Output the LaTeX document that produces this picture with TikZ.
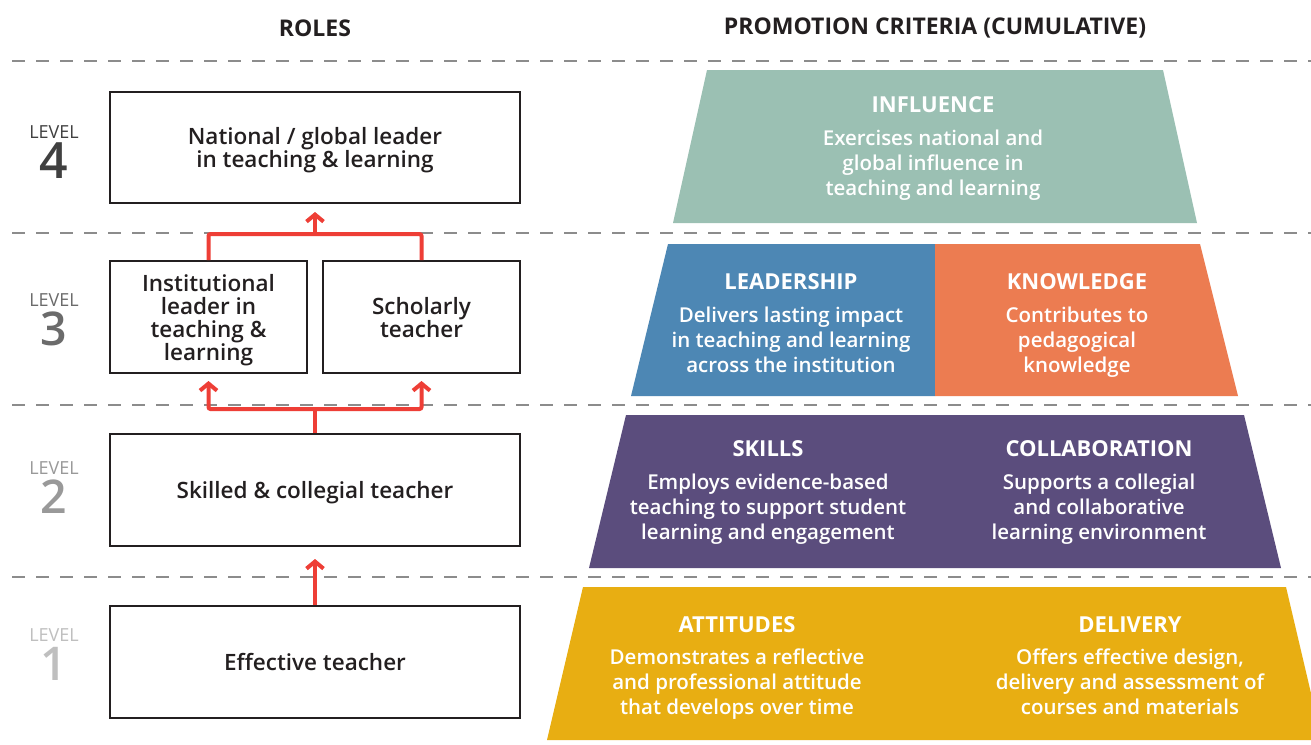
\documentclass[tikz,border=0pt]{standalone}
\usepackage{fontspec}
\setmainfont{Open Sans}
\IfFontExistsTF{Open Sans SemiBold}
  {\newfontfamily\semib{Open Sans SemiBold}}
  {\IfFontExistsTF{Open Sans Semibold}
     {\newfontfamily\semib{Open Sans Semibold}}
     {\newfontfamily\semib[FakeBold=1.3]{Open Sans}}}
\IfFontExistsTF{Open Sans ExtraBold}
  {\newfontfamily\xbold{Open Sans ExtraBold}}
  {\newfontfamily\xbold{Open Sans Bold}}
\newfontfamily\hbold{Open Sans Bold}
\usetikzlibrary{arrows.meta}
\definecolor{ink}{HTML}{231F20}
\definecolor{redl}{HTML}{EE3E36}
\definecolor{dashc}{HTML}{8C8C8C}
\definecolor{cgreen}{HTML}{9BC0B3}
\definecolor{cblue}{HTML}{4D87B4}
\definecolor{corange}{HTML}{EC7C51}
\definecolor{cpurple}{HTML}{5B4D7D}
\definecolor{cyellow}{HTML}{E8AE12}
\tikzset{
  rolebox/.style={draw=ink, line width=2pt, align=center, text=ink, text depth=0pt,
    font=\semib\fontsize{22.5}{23}\selectfont, inner sep=0pt},
  conn/.style={draw=redl, line width=4pt, rounded corners=2pt},
  arr/.style={conn, -{Straight Barb[length=7pt,width=17pt,line width=4pt]}},
  sep/.style={draw=dashc, line width=1.8pt, dash pattern=on 13pt off 11pt},
  crit/.style={text=white, font=\xbold\fontsize{22}{24}\selectfont},
  body/.style={text=white, align=center, text depth=0pt, font=\semib\fontsize{20.5}{25}\selectfont},
  lvl/.style={anchor=base, inner sep=0pt, font=\fontsize{18}{18}\selectfont},
  dig/.style={anchor=base, inner sep=0pt, text height=32pt, font=\semib\fontsize{50}{50}\selectfont},
  digs/.style={anchor=base, inner sep=0pt, text height=31pt, font=\semib\fontsize{46.5}{47}\selectfont},
  head/.style={text=ink, font=\hbold\fontsize{23}{24}\selectfont}
}
\begin{document}
\begin{tikzpicture}[x=1pt,y=-1pt]
\useasboundingbox[fill=white] (0,0) rectangle (1311,744);
% headings
\node[head] (hroles) at (315,28) {ROLES};
\node[head] (hcrit) at (935,28) {PROMOTION CRITERIA (CUMULATIVE)};
% dashed separators
\foreach \yy/\nm in {61/s4,233/s3,405/s2,577/s1}
  \draw[sep] (12,\yy) coordinate (\nm a) -- (1311,\yy) coordinate (\nm b);
% level labels
\node[lvl, text=black!75] (lv4) at (54,138) {LEVEL};
\node[dig, text=black!75] (d4) at (54,178) {4};
\node[lvl, text=black!58] (lv3) at (54,306) {LEVEL};
\node[digs, text=black!58] (d3) at (54,345) {3};
\node[lvl, text=black!40] (lv2) at (54,474) {LEVEL};
\node[digs, text=black!40] (d2) at (54,513) {2};
\node[lvl, text=black!25] (lv1) at (54,641) {LEVEL};
\node[digs, text=black!25] (d1) at (54,680) {1};
% role boxes
\node[rolebox, minimum width=410pt, minimum height=111pt] (l4) at (315,147.5)
  {National / global leader\\in teaching \& learning};
\node[rolebox, minimum width=197pt, minimum height=112pt] (l3a) at (208.5,317)
  {Institutional\\leader in\\teaching \&\\learning};
\node[rolebox, minimum width=197pt, minimum height=112pt] (l3b) at (421.5,317)
  {Scholarly\\teacher};
\node[rolebox, minimum width=410pt, minimum height=112pt] (l2) at (315,490)
  {Skilled \& collegial teacher};
\node[rolebox, minimum width=410pt, minimum height=112pt] (l1) at (315,662)
  {Effective teacher};
% connectors
\coordinate (j3) at (315,234);
\coordinate (j2) at (315,409);
\draw[conn] (l3a.north) |- (j3) -| (l3b.north);
\draw[arr, shorten >=8pt] (j3) -- (l4.south);
\draw[conn] (l2.north) -- (j2);
\draw[arr, shorten >=7pt] (j2) -| (l3a.south);
\draw[arr, shorten >=7pt] (j2) -| (l3b.south);
\draw[arr, shorten >=12pt] (l1.north) -- (l2.south);
% criteria trapezoids
\fill[cgreen] (707,70) -- (1163,70) -- (1197,223) -- (673,223) -- cycle;
\fill[cblue] (668,244) -- (935,244) -- (935,396) -- (631,396) -- cycle;
\fill[corange] (935,244) -- (1200,244) -- (1238,396) -- (935,396) -- cycle;
\fill[cpurple] (626,415) -- (1244,415) -- (1281,568) -- (589,568) -- cycle;
\fill[cyellow] (583,587) -- (1286,587) -- (1322,740) -- (547,740) -- cycle;
% criteria texts
\node[crit] (t4) at (933,105) {INFLUENCE};
\node[body] (b4) at (933,163) {Exercises national and\\global influence in\\teaching and learning};
\node[crit] (t3a) at (791,282) {LEADERSHIP};
\node[body] (b3a) at (791,340) {Delivers lasting impact\\in teaching and learning\\across the institution};
\node[crit] (t3b) at (1077,282) {KNOWLEDGE};
\node[body] (b3b) at (1077,340) {Contributes to\\pedagogical\\knowledge};
\node[crit] (t2a) at (768,449) {SKILLS};
\node[body] (b2a) at (768,507) {Employs evidence-based\\teaching to support student\\learning and engagement};
\node[crit] (t2b) at (1099,449) {COLLABORATION};
\node[body] (b2b) at (1099,507) {Supports a collegial\\and collaborative\\learning environment};
\node[crit] (t1a) at (737,625) {ATTITUDES};
\node[body] (b1a) at (737,682) {Demonstrates a reflective\\and professional attitude\\that develops over time};
\node[crit] (t1b) at (1130,625) {DELIVERY};
\node[body] (b1b) at (1130,682) {Offers effective design,\\delivery and assessment of\\courses and materials};
\end{tikzpicture}
\end{document}
